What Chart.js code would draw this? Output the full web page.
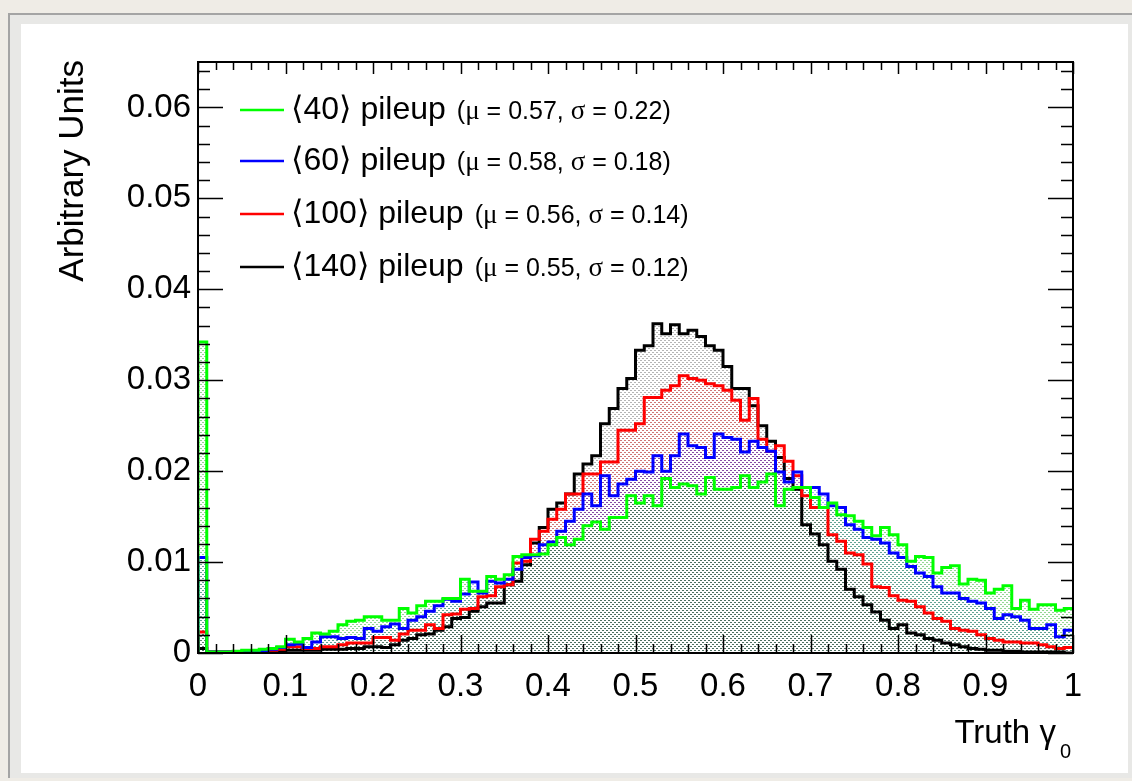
<!DOCTYPE html>
<html>
<head>
<meta charset="utf-8">
<script src="https://cdn.jsdelivr.net/npm/chart.js@4.4.0/dist/chart.umd.min.js"></script>
<style>
  html, body { margin: 0; padding: 0; }
  body { width: 1132px; height: 781px; background: #efece6; position: relative; overflow: hidden; }
  #frame { position: absolute; left: 8px; top: 13px; width: 1124px; height: 763px;
           border-left: 2px solid #a4a4a4; border-top: 2px solid #a4a4a4; background: #e8e8e6; }
  #panel { position: absolute; left: 21px; top: 24px; width: 1107px; height: 749px; background: #ffffff; }
  #c { position: absolute; left: 0; top: 0; }
</style>
</head>
<body>
<div id="frame"></div>
<div id="panel"></div>
<canvas id="c" width="1132" height="781"></canvas>
<script>
// histogram: 100 bins between 0 and 1 (Truth gamma_0)
const nBins = 100;
const xMin = 0;
const xMax = 1;

const pileup40 = [
  0.0342, 0.0001, 0.0001, 0.0001, 0.0002, 0.0003, 0.0003, 0.0004, 0.0005, 0.0007,
  0.0015, 0.0012, 0.0016, 0.0022, 0.0021, 0.0024, 0.0031, 0.0035, 0.0036, 0.0040,
  0.0040, 0.0036, 0.0036, 0.0049, 0.0044, 0.0052, 0.0057, 0.0057, 0.0060, 0.0060,
  0.0081, 0.0068, 0.0068, 0.0084, 0.0081, 0.0086, 0.0106, 0.0108, 0.0108, 0.0109,
  0.0119, 0.0127, 0.0119, 0.0125, 0.0140, 0.0144, 0.0136, 0.0149, 0.0149, 0.0173,
  0.0165, 0.0173, 0.0162, 0.0192, 0.0182, 0.0186, 0.0184, 0.0175, 0.0193, 0.0180,
  0.0180, 0.0182, 0.0195, 0.0182, 0.0188, 0.0197, 0.0162, 0.0180, 0.0182, 0.0182,
  0.0171, 0.0160, 0.0165, 0.0152, 0.0151, 0.0145, 0.0138, 0.0129, 0.0138, 0.0130,
  0.0119, 0.0101, 0.0106, 0.0105, 0.0088, 0.0094, 0.0096, 0.0076, 0.0081, 0.0080,
  0.0066, 0.0070, 0.0074, 0.0049, 0.0058, 0.0048, 0.0053, 0.0053, 0.0047, 0.0049
];
const pileup60 = [
  0.0105, 0.0001, 0.0001, 0.0001, 0.0001, 0.0002, 0.0002, 0.0002, 0.0004, 0.0006,
  0.0009, 0.0010, 0.0006, 0.0012, 0.0018, 0.0018, 0.0016, 0.0017, 0.0016, 0.0027,
  0.0024, 0.0029, 0.0032, 0.0027, 0.0036, 0.0040, 0.0046, 0.0052, 0.0059, 0.0057,
  0.0065, 0.0078, 0.0066, 0.0079, 0.0077, 0.0081, 0.0092, 0.0105, 0.0107, 0.0119,
  0.0122, 0.0134, 0.0145, 0.0158, 0.0175, 0.0162, 0.0195, 0.0173, 0.0186, 0.0191,
  0.0200, 0.0199, 0.0217, 0.0200, 0.0217, 0.0241, 0.0228, 0.0226, 0.0215, 0.0241,
  0.0237, 0.0235, 0.0221, 0.0233, 0.0226, 0.0222, 0.0199, 0.0188, 0.0199, 0.0182,
  0.0182, 0.0175, 0.0162, 0.0160, 0.0141, 0.0136, 0.0127, 0.0125, 0.0121, 0.0110,
  0.0105, 0.0095, 0.0088, 0.0084, 0.0073, 0.0066, 0.0066, 0.0060, 0.0057, 0.0055,
  0.0049, 0.0038, 0.0042, 0.0040, 0.0036, 0.0027, 0.0027, 0.0031, 0.0018, 0.0025
];
const pileup100 = [
  0.0023, 0.0001, 0.0001, 0.0001, 0.0001, 0.0001, 0.0001, 0.0002, 0.0003, 0.0004,
  0.0007, 0.0007, 0.0005, 0.0005, 0.0007, 0.0007, 0.0009, 0.0011, 0.0011, 0.0011,
  0.0017, 0.0017, 0.0014, 0.0021, 0.0025, 0.0025, 0.0031, 0.0027, 0.0042, 0.0043,
  0.0048, 0.0049, 0.0062, 0.0063, 0.0073, 0.0075, 0.0099, 0.0101, 0.0125, 0.0134,
  0.0147, 0.0158, 0.0175, 0.0175, 0.0197, 0.0197, 0.0210, 0.0210, 0.0245, 0.0245,
  0.0252, 0.0281, 0.0281, 0.0289, 0.0294, 0.0305, 0.0302, 0.0300, 0.0296, 0.0294,
  0.0289, 0.0278, 0.0256, 0.0280, 0.0235, 0.0222, 0.0228, 0.0211, 0.0195, 0.0173,
  0.0160, 0.0160, 0.0130, 0.0123, 0.0110, 0.0108, 0.0098, 0.0073, 0.0072, 0.0063,
  0.0058, 0.0057, 0.0051, 0.0044, 0.0038, 0.0035, 0.0027, 0.0025, 0.0024, 0.0020,
  0.0016, 0.0014, 0.0012, 0.0012, 0.0011, 0.0011, 0.0009, 0.0007, 0.0005, 0.0006
];
const pileup140 = [
  0.0005, 0.0001, 0.0001, 0.0001, 0.0001, 0.0001, 0.0001, 0.0001, 0.0001, 0.0002,
  0.0003, 0.0003, 0.0003, 0.0003, 0.0004, 0.0004, 0.0004, 0.0005, 0.0005, 0.0007,
  0.0007, 0.0006, 0.0009, 0.0014, 0.0016, 0.0020, 0.0021, 0.0025, 0.0029, 0.0038,
  0.0039, 0.0046, 0.0051, 0.0055, 0.0055, 0.0075, 0.0079, 0.0097, 0.0121, 0.0138,
  0.0158, 0.0165, 0.0175, 0.0197, 0.0208, 0.0217, 0.0252, 0.0269, 0.0291, 0.0302,
  0.0333, 0.0338, 0.0362, 0.0351, 0.0361, 0.0351, 0.0355, 0.0348, 0.0338, 0.0333,
  0.0315, 0.0291, 0.0291, 0.0272, 0.0250, 0.0233, 0.0215, 0.0192, 0.0180, 0.0141,
  0.0131, 0.0119, 0.0101, 0.0092, 0.0070, 0.0062, 0.0053, 0.0045, 0.0036, 0.0027,
  0.0031, 0.0022, 0.0020, 0.0016, 0.0014, 0.0011, 0.0009, 0.0007, 0.0005, 0.0004,
  0.0003, 0.0003, 0.0002, 0.0002, 0.0001, 0.0001, 0.0001, 0.0001, 0.0001, 0.0000
];

// legend texts
const legendLabels = ['\u27E840\u27E9 pileup', '\u27E860\u27E9 pileup', '\u27E8100\u27E9 pileup', '\u27E8140\u27E9 pileup'];
const legendMu = ['0.57', '0.58', '0.56', '0.55'];
const legendSigma = ['0.22', '0.18', '0.14', '0.12'];

// ticks
const xTicks = [0, 0.1, 0.2, 0.3, 0.4, 0.5, 0.6, 0.7, 0.8, 0.9, 1];
const xTickLabels = ['0', '0.1', '0.2', '0.3', '0.4', '0.5', '0.6', '0.7', '0.8', '0.9', '1'];
const yTicks = [0, 0.01, 0.02, 0.03, 0.04, 0.05, 0.06];
const yTickLabels = ['0', '0.01', '0.02', '0.03', '0.04', '0.05', '0.06'];
const yMax = 0.065;

const SANS = '"Liberation Sans", Arial, "DejaVu Sans", sans-serif';
const SERIF = '"Liberation Serif", "DejaVu Serif", serif';

const canvas = document.getElementById('c');
const ctx = canvas.getContext('2d');

// ROOT style dotted fill
function dotPattern(color) {
  const t = document.createElement('canvas');
  t.width = 4; t.height = 4;
  const g = t.getContext('2d');
  g.fillStyle = color;
  g.fillRect(0, 0, 2, 1);
  g.fillRect(2, 2, 2, 1);
  return ctx.createPattern(t, 'repeat');
}

// bin contents -> step points, one per right bin edge
// (chart.js 'after' = vertical step at the previous point, then flat to this one)
function histPoints(values) {
  const w = (xMax - xMin) / nBins;
  const pts = [{ x: xMin, y: 0 }];
  values.forEach((v, i) => pts.push({ x: xMin + (i + 1) * w, y: v }));
  return pts;
}

function histDataset(values, color, fillColor) {
  return {
    data: histPoints(values),
    borderColor: color,
    borderWidth: 3,
    stepped: 'after',
    pointRadius: 0,
    fill: 'origin',
    backgroundColor: dotPattern(fillColor)
  };
}

// frame, inward ticks, legend and axis titles, drawn like ROOT
const rootStyle = {
  id: 'rootStyle',
  afterDraw(chart) {
    const c = chart.ctx;
    const a = chart.chartArea;
    const xs = chart.scales.x, ys = chart.scales.y;
    c.save();
    c.strokeStyle = '#000';
    c.lineWidth = 2;
    c.strokeRect(a.left, a.top, a.right - a.left, a.bottom - a.top);

    c.beginPath();
    c.lineWidth = 1.5;
    for (let k = 0; k <= 50; k++) {
      const px = Math.round(xs.getPixelForValue(k * 0.02)) + 0.5;
      const major = k % 5 === 0;
      c.moveTo(px, a.bottom); c.lineTo(px, a.bottom - (major ? 18 : 9));
      c.moveTo(px, a.top); c.lineTo(px, a.top + (major ? 12 : 8));
    }
    for (let k = 0; k <= 32; k++) {
      const py = Math.round(ys.getPixelForValue(k * 0.002)) + 0.5;
      const major = k % 5 === 0;
      c.moveTo(a.left, py); c.lineTo(a.left + (major ? 25 : 12), py);
      c.moveTo(a.right, py); c.lineTo(a.right - (major ? 25 : 12), py);
    }
    c.stroke();

    // legend
    const rowY = [110, 161, 214, 267];
    const colors = ['#00ff00', '#0000ff', '#ff0000', '#000000'];
    c.textBaseline = 'middle';
    c.textAlign = 'left';
    rowY.forEach((y, i) => {
      c.strokeStyle = colors[i];
      c.lineWidth = 2.5;
      c.beginPath(); c.moveTo(240, y); c.lineTo(284, y); c.stroke();
      c.fillStyle = '#000';
      c.font = '32px ' + SANS;
      c.fillText(legendLabels[i], 291, y);
      let x = 291 + c.measureText(legendLabels[i]).width + 11;
      const runs = [
        ['(', SANS], ['\u03BC', SERIF], [' = ' + legendMu[i] + ', ', SANS],
        ['\u03C3', SERIF], [' = ' + legendSigma[i] + ')', SANS]
      ];
      runs.forEach(r => {
        c.font = (r[1] === SERIF ? '27px ' : '25px ') + r[1];
        c.fillText(r[0], x, y + 2);
        x += c.measureText(r[0]).width;
      });
    });

    // y title
    c.save();
    c.translate(83, 60);
    c.rotate(-Math.PI / 2);
    c.textAlign = 'right';
    c.textBaseline = 'alphabetic';
    c.font = '35px ' + SANS;
    c.fillText('Arbitrary Units', 0, 0);
    c.restore();

    // x title: Truth gamma_0
    c.textBaseline = 'alphabetic';
    c.textAlign = 'right';
    c.font = '20px ' + SANS;
    const subW = c.measureText('0').width;
    c.fillText('0', 1071, 758);
    c.font = '33px ' + SANS;
    c.fillText('Truth \u03B3', 1071 - subW - 4, 743);
    c.restore();
  }
};

new Chart(ctx, {
  type: 'line',
  data: {
    datasets: [
      histDataset(pileup40, '#00ff00', 'rgba(0,160,0,0.42)'),
      histDataset(pileup60, '#0000ff', 'rgba(0,0,255,0.35)'),
      histDataset(pileup100, '#ff0000', 'rgba(255,0,0,0.35)'),
      histDataset(pileup140, '#000000', 'rgba(60,60,60,0.38)')
    ]
  },
  options: {
    responsive: false,
    animation: false,
    devicePixelRatio: 1,
    layout: { padding: { left: 0, right: 59, top: 62, bottom: 0 } },
    plugins: {
      legend: { display: false },
      tooltip: { enabled: false },
      filler: { drawTime: 'beforeDatasetsDraw' }
    },
    scales: {
      x: {
        type: 'linear', min: xMin, max: xMax,
        grid: { display: false, drawTicks: false },
        border: { display: false },
        afterBuildTicks: s => { s.ticks = xTicks.map(v => ({ value: v })); },
        afterFit: s => { s.height = 128; },
        ticks: {
          autoSkip: false, maxRotation: 0, padding: 14, color: '#000',
          font: { family: SANS, size: 33 },
          callback: (v, i) => xTickLabels[i]
        }
      },
      y: {
        type: 'linear', min: 0, max: yMax,
        grid: { display: false, drawTicks: false },
        border: { display: false },
        afterBuildTicks: s => { s.ticks = yTicks.map(v => ({ value: v })); },
        afterFit: s => { s.width = 198; },
        ticks: {
          autoSkip: false, padding: 7, color: '#000',
          font: { family: SANS, size: 33 },
          callback: (v, i) => yTickLabels[i]
        }
      }
    }
  },
  plugins: [rootStyle]
});
</script>
</body>
</html>
